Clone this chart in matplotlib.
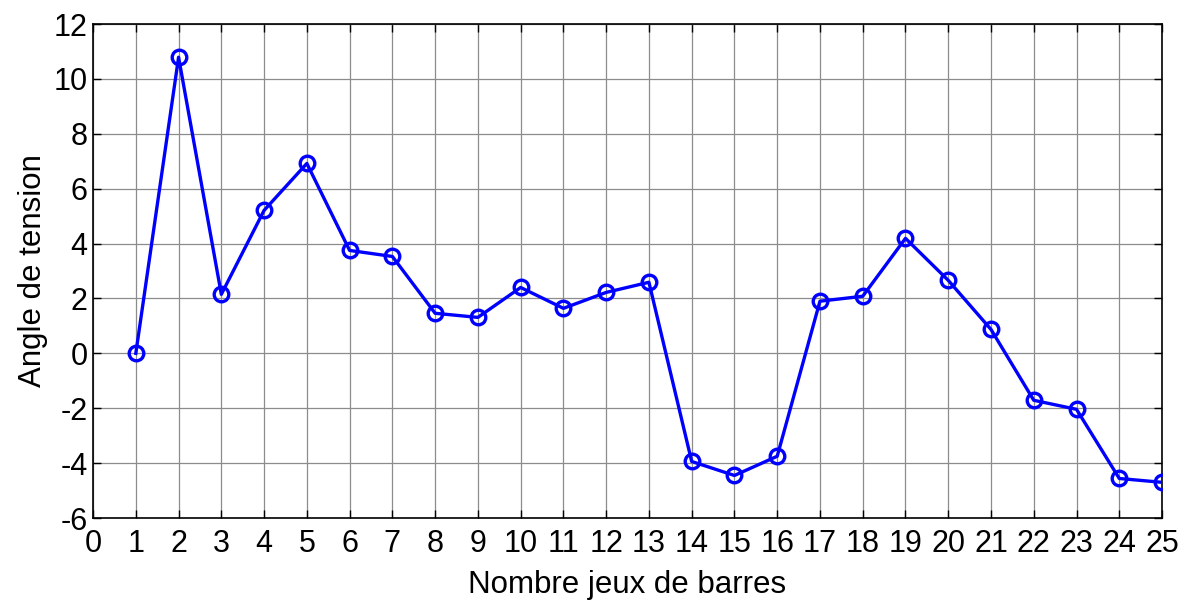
import matplotlib
matplotlib.use("Agg")
import matplotlib.pyplot as plt

# Data
bus = list(range(1, 26))
angle = [0.0, 10.79, 2.15, 5.21, 6.92, 3.75, 3.53, 1.46, 1.31, 2.40,
         1.64, 2.22, 2.59, -3.94, -4.45, -3.75, 1.90, 2.08, 4.19, 2.66,
         0.87, -1.71, -2.04, -4.56, -4.70]
xticks = list(range(0, 26))
yticks = list(range(-6, 13, 2))

plt.rcParams['font.family'] = ['Liberation Sans', 'DejaVu Sans']
plt.rcParams['axes.unicode_minus'] = False

fig = plt.figure(figsize=(11.9, 6.05), dpi=100)
ax = fig.add_axes([0.0782, 0.1438, 0.8983, 0.8165])

ax.plot(bus, angle, color='#0000ff', linewidth=2.4, marker='o',
        markersize=10.5, markerfacecolor='none', markeredgewidth=2.4, zorder=3)

ax.set_xlim(0, 25)
ax.set_ylim(-6, 12)
ax.set_xticks(xticks)
ax.set_yticks(yticks)
ax.grid(True, color='#8c8c8c', linewidth=0.9, linestyle='-')
ax.set_axisbelow(True)
ax.tick_params(direction='in', length=6, width=1, labelsize=22,
               top=True, right=True)
ax.tick_params(axis='x', pad=8)
ax.tick_params(axis='y', pad=4)
for s in ax.spines.values():
    s.set_linewidth(1.2)

ax.set_xlabel('Nombre jeux de barres', fontsize=22.5, labelpad=8)
ax.set_ylabel('Angle de tension', fontsize=22.5, labelpad=4)

fig.savefig('out.png', dpi=100)
